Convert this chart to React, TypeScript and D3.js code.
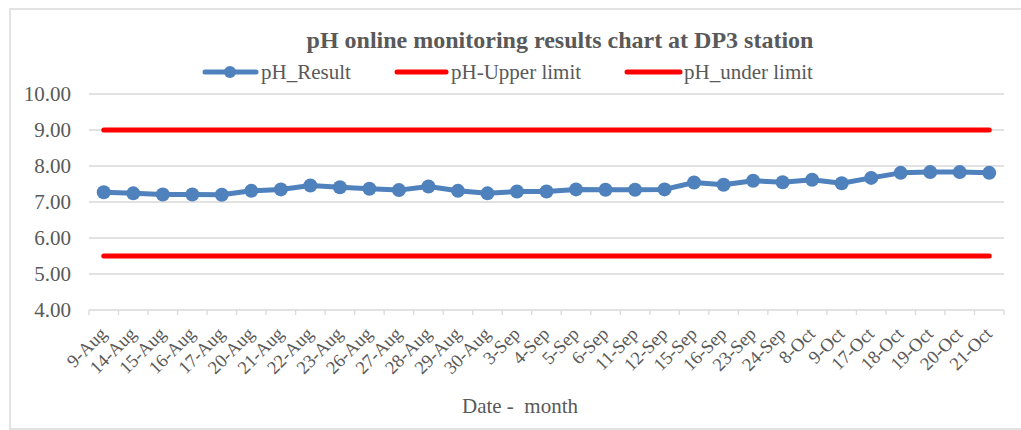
import React from "react";
import * as d3 from "d3";

const categories = ["9-Aug","14-Aug","15-Aug","16-Aug","17-Aug","20-Aug","21-Aug","22-Aug","23-Aug","26-Aug","27-Aug","28-Aug","29-Aug","30-Aug","3-Sep","4-Sep","5-Sep","6-Sep","11-Sep","12-Sep","15-Sep","16-Sep","23-Sep","24-Sep","8-Oct","9-Oct","17-Oct","18-Oct","19-Oct","20-Oct","21-Oct"];
const phResult = [7.27,7.24,7.21,7.21,7.20,7.31,7.35,7.46,7.41,7.37,7.33,7.43,7.31,7.24,7.29,7.29,7.35,7.34,7.34,7.35,7.54,7.48,7.59,7.55,7.62,7.52,7.67,7.81,7.83,7.83,7.81];
const upperLimit = categories.map(() => 9);
const underLimit = categories.map(() => 5.5);
const yTicks = [4, 5, 6, 7, 8, 9, 10];
const title = "pH online monitoring results chart at DP3 station";
const legendLabels = ["pH_Result", "pH-Upper limit", "pH_under limit"];
const xTitle = "Date -  month";

const W = 1021, H = 430;
const plot = { left: 89, right: 1004, top: 94, bottom: 310 };
const FONT = "'Liberation Serif', 'Times New Roman', serif";
const TXT = "#595959";
const GRID = "#D9D9D9";
const BLUE = "#4F81BD";
const RED = "#FF0000";

export default function App() {
  const x = d3.scaleBand<string>().domain(categories).range([plot.left, plot.right]);
  const cx = (c: string) => (x(c) as number) + x.bandwidth() / 2;
  const y = d3.scaleLinear().domain([4, 10]).range([plot.bottom, plot.top]);
  const line = d3.line<number>().x((_, i) => cx(categories[i])).y((d) => y(d));

  const boundaries = [...categories.map((c) => x(c) as number), plot.right];

  return (
    <div style={{ position: "absolute", left: 0, top: 0 }}>
      <svg width={W} height={H} style={{ display: "block", fontFamily: FONT }}>
        <rect x={0} y={0} width={W} height={H} fill="#fff" />
        <rect x={10} y={9} width={W + 10} height={420} fill="#fff" stroke={GRID} strokeWidth={1.5} />
        {/* grid */}
        {yTicks.map((t) => (
          <g key={t}>
            {t !== 4 && (
              <line x1={plot.left} x2={plot.right} y1={y(t)} y2={y(t)} stroke={GRID} strokeWidth={1.3} />
            )}
            <text x={71} y={y(t)} dy="0.35em" textAnchor="end" fontSize={21} fill={TXT}>
              {t.toFixed(2)}
            </text>
          </g>
        ))}
        {/* x axis */}
        <line x1={plot.left} x2={plot.right} y1={y(4)} y2={y(4)} stroke={GRID} strokeWidth={1.3} />
        {boundaries.map((b, i) => (
          <line key={i} x1={b} x2={b} y1={y(4)} y2={y(4) + 5} stroke={GRID} strokeWidth={1.3} />
        ))}
        {categories.map((c) => (
          <text
            key={c}
            transform={`translate(${cx(c) + 4},${y(4) + 25}) rotate(-45)`}
            textAnchor="end"
            fontSize={18.5}
            fill={TXT}
          >
            {c}
          </text>
        ))}
        {/* limits */}
        <path d={line(upperLimit) || ""} fill="none" stroke={RED} strokeWidth={5} strokeLinecap="round" />
        <path d={line(underLimit) || ""} fill="none" stroke={RED} strokeWidth={5} strokeLinecap="round" />
        {/* result */}
        <path d={line(phResult) || ""} fill="none" stroke={BLUE} strokeWidth={5} strokeLinejoin="round" />
        {phResult.map((v, i) => (
          <circle key={i} cx={cx(categories[i])} cy={y(v)} r={7} fill={BLUE} />
        ))}
        {/* title */}
        <text x={560} y={48} textAnchor="middle" fontSize={24} fontWeight="bold" fill={TXT}>
          {title}
        </text>
        {/* legend */}
        <g>
          <line x1={205} x2={256} y1={72} y2={72} stroke={BLUE} strokeWidth={5} strokeLinecap="round" />
          <circle cx={230} cy={72} r={6} fill={BLUE} />
          <text x={261} y={79} fontSize={21} fill={TXT}>{legendLabels[0]}</text>
          <line x1={397} x2={446} y1={72} y2={72} stroke={RED} strokeWidth={5} strokeLinecap="round" />
          <text x={451} y={79} fontSize={21} fill={TXT}>{legendLabels[1]}</text>
          <line x1={627} x2={680} y1={72} y2={72} stroke={RED} strokeWidth={5} strokeLinecap="round" />
          <text x={684} y={79} fontSize={21} fill={TXT}>{legendLabels[2]}</text>
        </g>
        <text x={520} y={413} textAnchor="middle" fontSize={21} fill={TXT} style={{ whiteSpace: "pre" }}>
          {xTitle}
        </text>
      </svg>
    </div>
  );
}
